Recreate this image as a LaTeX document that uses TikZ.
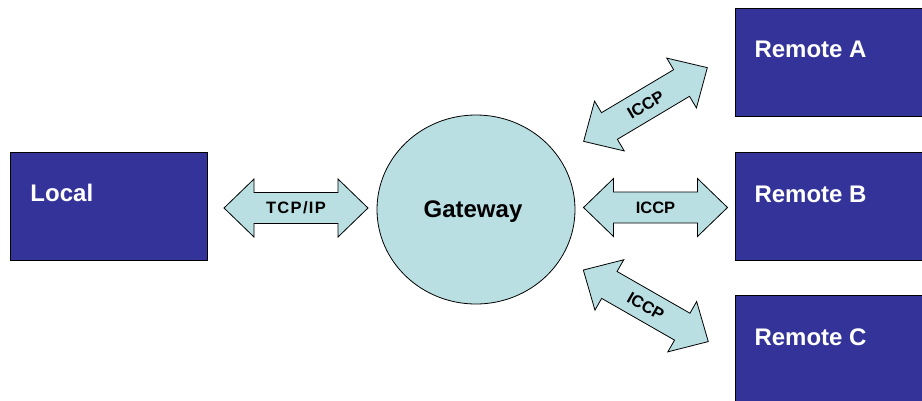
\documentclass[tikz,border=0pt]{standalone}
\usepackage{fontspec}
\setmainfont{Liberation Sans}
\definecolor{boxblue}{RGB}{51,51,153}
\definecolor{paleteal}{RGB}{185,223,227}
\tikzset{
  sitebox/.style={draw=black, line width=0.8pt, fill=boxblue, inner sep=0pt, anchor=north west},
  sitelabel/.style={text=white, font=\fontsize{24}{28}\selectfont\bfseries, inner sep=0pt, anchor=base west},
  gwlabel/.style={text=black, font=\fontsize{24}{28}\selectfont\bfseries, inner sep=0pt, anchor=base},
  arrowshape/.style={draw=black, line width=0.8pt, fill=paleteal, line join=miter},
  arrowlabel/.style={text=black, font=\fontsize{16.5}{18}\selectfont\bfseries, inner sep=0pt, text height=11.8pt, text depth=0pt, anchor=center},
  fatarrow/.pic={
    \draw[arrowshape] (-72,0) -- (-42,-29) -- (-42,-15.5) -- (42,-15.5) -- (42,-29) -- (72,0)
      -- (42,29) -- (42,15.5) -- (-42,15.5) -- (-42,29) -- cycle;
    \node[arrowlabel, transform shape] (-label) at (0,0) {#1};
  }
}
\begin{document}
\begin{tikzpicture}[x=1pt,y=-1pt]
\useasboundingbox (0,0) rectangle (922,400);
\clip (0,0) rectangle (922,400);
% boxes
\node[sitebox, minimum width=197pt, minimum height=108pt] (local) at (10,151.5) {};
\node[sitebox, minimum width=200pt, minimum height=108pt] (remA) at (735,7.5) {};
\node[sitebox, minimum width=200pt, minimum height=108pt] (remB) at (735,152) {};
\node[sitebox, minimum width=200pt, minimum height=108pt] (remC) at (735,295) {};
\node[sitelabel] (localtxt) at (30.3,201) {Local};
\node[sitelabel] (remAtxt) at (754.3,57) {Remote A};
\node[sitelabel] (remBtxt) at (754.3,202) {Remote B};
\node[sitelabel] (remCtxt) at (754.3,345.5) {Remote C};
% gateway
\draw[draw=black, line width=0.8pt, fill=paleteal] (476,209.5) ellipse [x radius=99, y radius=94.5];
\coordinate (gw) at (476,209.5);
\node[gwlabel] (gwtxt) at (473,217) {Gateway};
% arrows
\pic (tcp) at (296,208) {fatarrow={\addfontfeature{LetterSpace=8}TCP/IP}};
\pic (iccpB) at (655.5,207.5) {fatarrow=ICCP};
\pic[rotate=30.8] (iccpA) at (645.5,104.5) {fatarrow=ICCP};
\pic[rotate=-29.8] (iccpC) at (645.8,305.8) {fatarrow=ICCP};
\end{tikzpicture}
\end{document}
